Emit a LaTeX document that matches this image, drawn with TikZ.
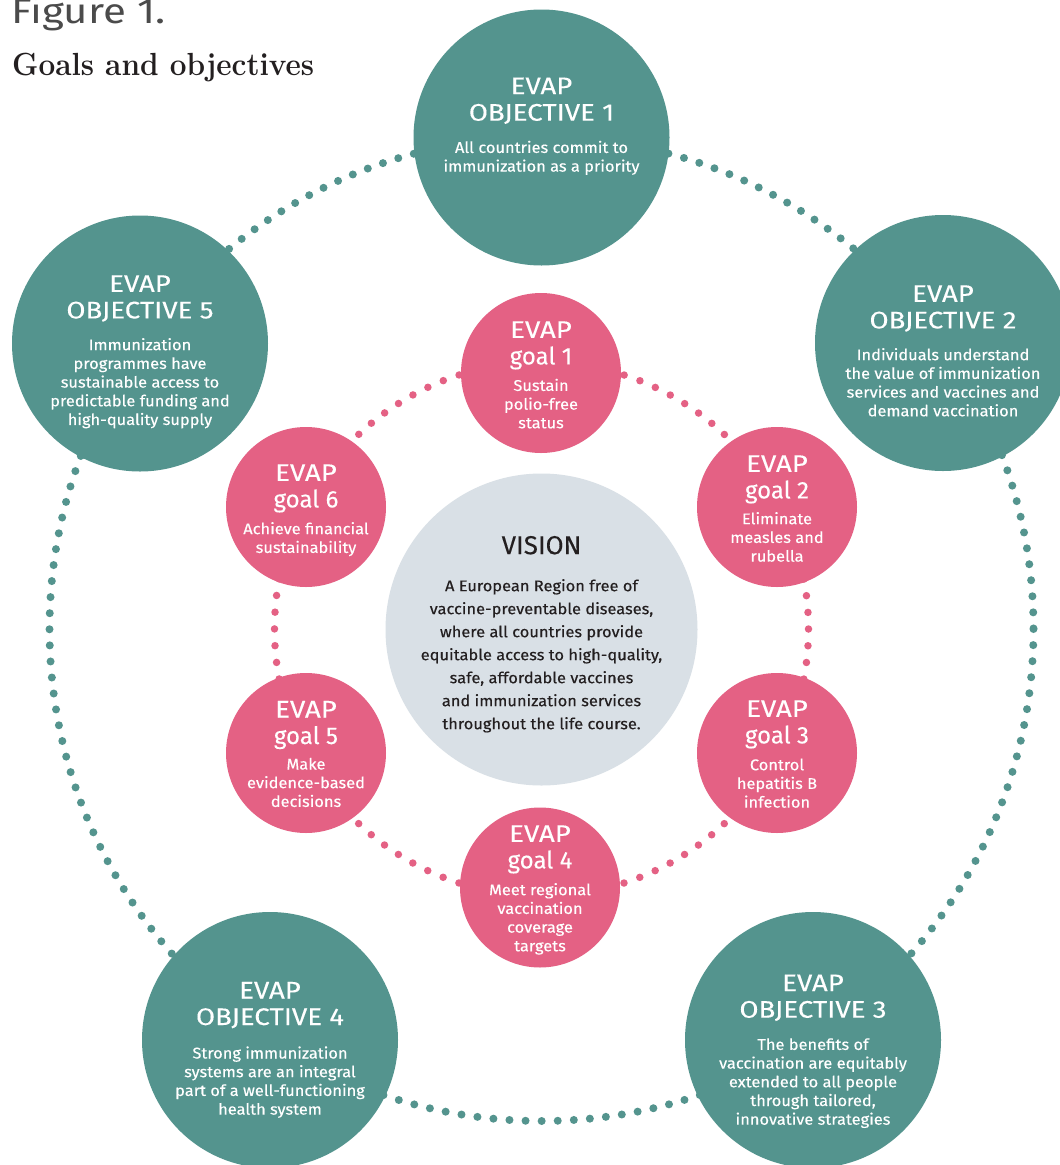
\documentclass[tikz,border=0pt]{standalone}
\usepackage{fontspec}
\setsansfont{Fira Sans}
\newfontfamily\dinbody{Fira Sans}[FakeStretch=1.06, FakeBold=0.3]
\newfontfamily\dincaps{Fira Sans}[FakeStretch=1.15, FakeBold=0.2]
\newfontfamily\dinlow{Fira Sans}[FakeBold=0.2]
\newfontfamily\dinfig{Fira Sans}[FakeStretch=1.2]
\definecolor{evteal}{RGB}{84,148,142}
\definecolor{evpink}{RGB}{228,97,132}
\definecolor{evgray}{RGB}{217,224,230}
\definecolor{evdark}{RGB}{35,31,32}
\definecolor{evfig}{RGB}{75,75,75}
\begin{document}
\begin{tikzpicture}[x=1pt,y=-1pt,
  tealcirc/.style={circle, fill=evteal, minimum size=256pt, inner sep=0pt},
  pinkcirc/.style={circle, fill=evpink, minimum size=160pt, inner sep=0pt},
  viscirc/.style={circle, fill=evgray, minimum size=312pt, inner sep=0pt},
  ttl/.style={font=\dincaps\fontsize{24}{26.5}\selectfont, text=white, align=center, anchor=north, inner sep=0pt},
  gttl/.style={font=\dinlow\fontsize{24}{25}\selectfont, text=white, align=center, anchor=north, inner sep=0pt},
  bdy/.style={font=\dinbody\fontsize{15.5}{18.7}\selectfont, text=white, align=center, anchor=north, inner sep=0pt},
  vttl/.style={font=\dinlow\fontsize{26}{28}\selectfont, text=evdark, align=center, anchor=north, inner sep=0pt},
  vbdy/.style={font=\dinbody\fontsize{15.5}{23}\selectfont, text=evdark, align=center, anchor=north, inner sep=0pt},
  tealdots/.style={evteal, line width=8pt, line cap=round, dash pattern=on 0pt off 16.1pt},
  pinkdots/.style={evpink, line width=7.5pt, line cap=round, dash pattern=on 0pt off 16.78pt}]
\clip (0,0) rectangle (1060,1165);
\fill[white] (0,0) rectangle (1060,1165);
\coordinate (C) at (541.5,629);
% dotted rings behind the circles
\draw[tealdots] (C) circle (492);
\draw[pinkdots] (C) circle (267);
% objectives
\node[tealcirc] (o1) at (541.5,137.5) {};
\node[tealcirc] (o2) at (943,343) {};
\node[tealcirc] (o3) at (813,1040) {};
\node[tealcirc] (o4) at (270,1040) {};
\node[tealcirc] (o5) at (140,343.5) {};
% goals
\node[pinkcirc] (g1) at (541,373) {};
\node[pinkcirc] (g2) at (777,507) {};
\node[pinkcirc] (g3) at (777,753) {};
\node[pinkcirc] (g4) at (540,887.5) {};
\node[pinkcirc] (g5) at (306,753) {};
\node[pinkcirc] (g6) at (306,507) {};
% vision
\node[viscirc] (v) at (541.5,629.5) {};
% objective texts
\node[ttl] (o1t) at (541.5,75.45) {\strut EVAP\\OBJECTIVE 1};
\node[bdy] (o1b) at (541.5,139.6) {\strut All countries commit to\\immunization as a priority};
\node[ttl] (o2t) at (943,283.15) {\strut EVAP\\OBJECTIVE 2};
\node[bdy] (o2b) at (943,346.9) {\strut Individuals understand\\the value of immunization\\services and vaccines and\\demand vaccination};
\node[ttl] (o3t) at (813,972.45) {\strut EVAP\\OBJECTIVE 3};
\node[bdy] (o3b) at (813,1036.6) {\strut The benefits of\\vaccination are equitably\\extended to all people\\through tailored,\\innovative strategies};
\node[ttl] (o4t) at (270,979.75) {\strut EVAP\\OBJECTIVE 4};
\node[bdy] (o4b) at (270,1045.2) {\strut Strong immunization\\systems are an integral\\part of a well-functioning\\health system};
\node[ttl] (o5t) at (140,273.15) {\strut EVAP\\OBJECTIVE 5};
\node[bdy] (o5b) at (140,336.9) {\strut Immunization\\programmes have\\sustainable access to\\predictable funding and\\high-quality supply};
% goal texts
\node[gttl] (g1t) at (541,320.2) {\strut{\dincaps EVAP}\\goal 1};
\node[bdy] (g1b) at (541,377.6) {\strut Sustain\\polio-free\\status};
\node[gttl] (g2t) at (777,454.2) {\strut{\dincaps EVAP}\\goal 2};
\node[bdy] (g2b) at (777,510.9) {\strut Eliminate\\measles and\\rubella};
\node[gttl] (g3t) at (777,699.2) {\strut{\dincaps EVAP}\\goal 3};
\node[bdy] (g3b) at (777,756.9) {\strut Control\\hepatitis B\\infection};
\node[gttl] (g4t) at (540,824.2) {\strut{\dincaps EVAP}\\goal 4};
\node[bdy] (g4b) at (540,881.9) {\strut Meet regional\\vaccination\\coverage\\targets};
\node[gttl] (g5t) at (306,699.8) {\strut{\dincaps EVAP}\\goal 5};
\node[bdy] (g5b) at (306,756.2) {\strut Make\\evidence-based\\decisions};
\node[gttl] (g6t) at (306,463.2) {\strut{\dincaps EVAP}\\goal 6};
\node[bdy] (g6b) at (306,520.9) {\strut Achieve financial\\sustainability};
% vision text
\node[vttl] (vt) at (541.5,534.4) {\strut VISION};
\node[vbdy] (vb) at (541.5,574.9) {\strut A European Region free of\\vaccine-preventable diseases,\\where all countries provide\\equitable access to high-quality,\\safe, affordable vaccines\\and immunization services\\throughout the life course.};
% heading
\node[anchor=base west, inner sep=0pt, font=\dinfig\fontsize{35}{35}\selectfont, text=evfig] (fig) at (11,23) {Figure 1.};
\node[anchor=base west, inner sep=0pt, text=evdark] (gao) at (12,75) {\scalebox{0.93}[1]{\fontsize{32}{32}\selectfont\rmfamily\bfseries Goals and objectives}};
\end{tikzpicture}
\end{document}
